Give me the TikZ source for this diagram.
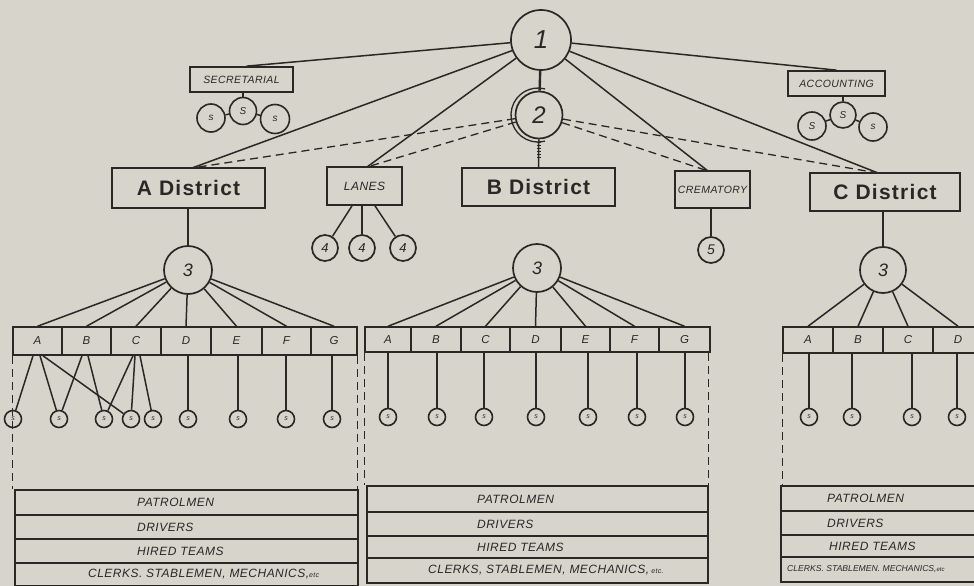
\documentclass[tikz,border=0pt]{standalone}
\usepackage{fontspec}
\setmainfont{Liberation Sans}
\newfontfamily\handf[LetterSpace=4]{Liberation Sans}
\newfontfamily\distf[LetterSpace=6]{Liberation Sans}
\usetikzlibrary{calc}
\definecolor{bg}{RGB}{214,212,203}
\definecolor{ink}{RGB}{42,40,38}
\begin{document}
\begin{tikzpicture}[x=1pt,y=-1pt,
  ln/.style={draw=ink,line width=1.5pt},
  dln/.style={draw=ink,line width=1.3pt,dash pattern=on 8pt off 5pt},
  distbox/.style={draw=ink,line width=1.9pt,inner sep=0pt,font=\distf\bfseries\fontsize{21}{24}\selectfont,text=ink},
  lblbox/.style={draw=ink,line width=1.7pt,inner sep=0pt,font=\handf\itshape\fontsize{10.5}{12}\selectfont,text=ink},
  bigc/.style={circle,draw=ink,line width=1.7pt,inner sep=0pt,text=ink},
  ssc/.style={circle,draw=ink,line width=1.6pt,inner sep=0pt,minimum size=17pt,font=\itshape\fontsize{7}{8}\selectfont,text=ink},
  midc/.style={circle,draw=ink,line width=1.6pt,inner sep=0pt,text=ink,font=\itshape\fontsize{10}{11}\selectfont},
  cell/.style={draw=ink,line width=1.5pt,inner sep=0pt,font=\handf\itshape\fontsize{11.5}{12}\selectfont,text=ink},
  row/.style={draw=ink,line width=1.5pt,inner sep=0pt},
  rowtxt/.style={inner sep=0pt,anchor=west,font=\handf\itshape\fontsize{12}{14}\selectfont,text=ink},
]
\useasboundingbox (0,0) rectangle (974,586);
\fill[bg] (0,0) rectangle (974,586);
\clip (0,0) rectangle (974,586);

% top circles
\node[bigc,minimum size=60pt,font=\itshape\fontsize{26}{28}\selectfont] (c1) at (541,40) {1};
\node[bigc,minimum size=47pt,font=\itshape\fontsize{24}{26}\selectfont] (c2) at (539,115) {2};
\draw[ink,line width=1.3pt] ($(c2.center)+(-1,0)$) ++(-75:27) arc[start angle=-75,end angle=-285,radius=27];

% boxes
\node[lblbox,minimum width=103pt,minimum height=25pt] (sec) at (241.5,79.5) {SECRETARIAL};
\node[lblbox,minimum width=97pt,minimum height=25pt] (acc) at (836.5,83.5) {ACCOUNTING};
\node[distbox,minimum width=153pt,minimum height=40pt] (ad) at (188.5,188) {A District};
\node[distbox,minimum width=153pt,minimum height=38pt] (bd) at (538.5,187) {B District};
\node[distbox,minimum width=150pt,minimum height=38pt] (cd) at (885,192) {C District};
\node[lblbox,minimum width=75pt,minimum height=38pt,font=\handf\itshape\fontsize{12}{13}\selectfont] (lanes) at (364.5,186) {LANES};
\node[lblbox,minimum width=75pt,minimum height=37pt] (crem) at (712.5,189.5) {CREMATORY};

% attachment points
\coordinate (adT) at (192,168);
\coordinate (lT) at (367,167);
\coordinate (crT) at (708,171);
\coordinate (cdT) at (878,173);

% solid connectors from 1
\draw[ln] (c1) -- ([xshift=5pt]sec.north);
\draw[ln] (c1) -- (acc.north);
\draw[ln] (c1) -- (adT);
\draw[ln] (c1) -- (lT);
\draw[ln] (c1) -- (crT);
\draw[ln] (c1) -- (cdT);
\draw[ink,line width=2.4pt] (c1) -- (c2);
\draw[ln] (c2) -- (bd.north);
\draw[ink,line width=4pt,dash pattern=on 0.9pt off 2pt] ($(c2.south)+(0,3)$) -- ($(c2.south)+(0,20)$);

% dashed connectors from 2
\draw[dln] (c2) -- (adT);
\draw[dln] (c2) -- (lT);
\draw[dln] (c2) -- (crT);
\draw[dln] (c2) -- (cdT);

% secretarial staff
\node[midc,minimum size=28pt] (ss1) at (211,118) {s};
\node[midc,minimum size=27pt] (ss2) at (243,111) {S};
\node[midc,minimum size=29pt] (ss3) at (275,119) {s};
\draw[ln] (sec.south -| ss2) -- (ss2);
\draw[ln] (ss1) -- (ss2);
\draw[ln] (ss2) -- (ss3);
% accounting staff
\node[midc,minimum size=28pt] (as1) at (812,126) {S};
\node[midc,minimum size=26pt] (as2) at (843,115) {S};
\node[midc,minimum size=28pt] (as3) at (873,127) {s};
\draw[ln] (acc.south -| as2) -- (as2);
\draw[ln] (as1) -- (as2);
\draw[ln] (as2) -- (as3);

% lanes
\node[bigc,minimum size=26pt,font=\itshape\fontsize{13}{14}\selectfont] (l1) at (325,248) {4};
\node[bigc,minimum size=26pt,font=\itshape\fontsize{13}{14}\selectfont] (l2) at (362,248) {4};
\node[bigc,minimum size=26pt,font=\itshape\fontsize{13}{14}\selectfont] (l3) at (403,248) {4};
\draw[ln] ([xshift=-12.5pt]lanes.south) -- (l1);
\draw[ln] ([xshift=-2.5pt]lanes.south) -- (l2);
\draw[ln] ([xshift=10.5pt]lanes.south) -- (l3);

% crematory
\node[bigc,minimum size=26pt,font=\itshape\fontsize{14}{15}\selectfont] (cr5) at (711,250) {5};
\draw[ln] (crem.south -| cr5) -- (cr5);

% district circles 3
\node[bigc,minimum size=48pt,font=\itshape\fontsize{18}{19}\selectfont] (c3a) at (188,270) {3};
\node[bigc,minimum size=48pt,font=\itshape\fontsize{18}{19}\selectfont] (c3b) at (537,268) {3};
\node[bigc,minimum size=46pt,font=\itshape\fontsize{18}{19}\selectfont] (c3c) at (883,270) {3};
\draw[ln] (ad.south -| c3a) -- (c3a);
\draw[ln] (cd.south -| c3c) -- (c3c);

% cells A
\foreach \nm/\l/\xa/\xb in {aA/A/13/62,aB/B/62/111,aC/C/111/161,aD/D/161/211,aE/E/211/262,aF/F/262/311,aG/G/311/357}
  \node[cell,minimum width={(\xb-\xa)*1pt},minimum height=28pt] (\nm) at ({(\xa+\xb)/2},341) {\l};
% cells B
\foreach \nm/\l/\xa/\xb in {bA/A/365/411,bB/B/411/461,bC/C/461/510,bD/D/510/561,bE/E/561/610,bF/F/610/659,bG/G/659/710}
  \node[cell,minimum width={(\xb-\xa)*1pt},minimum height=25pt] (\nm) at ({(\xa+\xb)/2},339.5) {\l};
% cells C
\foreach \nm/\l/\xa/\xb in {cA/A/783/833,cB/B/833/883,cC/C/883/933,cD/D/933/983}
  \node[cell,minimum width={(\xb-\xa)*1pt},minimum height=26pt] (\nm) at ({(\xa+\xb)/2},340) {\l};

\foreach \c in {aA,aB,aC,aD,aE,aF,aG} \draw[ln] (c3a) -- (\c.north);
\foreach \c in {bA,bB,bC,bD,bE,bF,bG} \draw[ln] (c3b) -- (\c.north);
\foreach \c in {cA,cB,cC,cD} \draw[ln] (c3c) -- (\c.north);

% s circles
\foreach \nm/\x in {sa1/13,sa2/59,sa3/104,sa4/131,sa5/153,sa6/188,sa7/238,sa8/286,sa9/332}
  \node[ssc] (\nm) at (\x,419) {s};
\foreach \nm/\x in {sb1/388,sb2/437,sb3/484,sb4/536,sb5/588,sb6/637,sb7/685}
  \node[ssc] (\nm) at (\x,417) {s};
\foreach \nm/\x in {sc1/809,sc2/852,sc3/912,sc4/957}
  \node[ssc] (\nm) at (\x,417) {s};

\draw[ln] ([xshift=-4.5pt]aA.south) -- (sa1);
\draw[ln] ([xshift=2.5pt]aA.south) -- (sa2);
\draw[ln] ([xshift=5.5pt]aA.south) -- (sa4);
\draw[ln] ([xshift=-4.5pt]aB.south) -- (sa2);
\draw[ln] ([xshift=1.5pt]aB.south) -- (sa3);
\draw[ln] ([xshift=-3pt]aC.south) -- (sa3);
\draw[ln] ([xshift=-1pt]aC.south) -- (sa4);
\draw[ln] ([xshift=4pt]aC.south) -- (sa5);
\draw[ln] (aD.south -| sa6) -- (sa6);
\draw[ln] (aE.south -| sa7) -- (sa7);
\draw[ln] (aF.south -| sa8) -- (sa8);
\draw[ln] (aG.south -| sa9) -- (sa9);
\foreach \c/\s in {bA/sb1,bB/sb2,bC/sb3,bD/sb4,bE/sb5,bF/sb6,bG/sb7}
  \draw[ln] (\c.south -| \s) -- (\s);
\foreach \c/\s in {cA/sc1,cB/sc2,cC/sc3,cD/sc4}
  \draw[ln] (\c.south -| \s) -- (\s);

% tables
\node[row,minimum width=343pt,minimum height=25pt] (ta1) at (186.5,502.5) {};
\node[row,minimum width=343pt,minimum height=24pt] (ta2) at (186.5,527) {};
\node[row,minimum width=343pt,minimum height=24pt] (ta3) at (186.5,551) {};
\node[row,minimum width=343pt,minimum height=23pt] (ta4) at (186.5,574.5) {};
\node[row,minimum width=341pt,minimum height=26pt] (tb1) at (537.5,499) {};
\node[row,minimum width=341pt,minimum height=24pt] (tb2) at (537.5,524) {};
\node[row,minimum width=341pt,minimum height=22pt] (tb3) at (537.5,547) {};
\node[row,minimum width=341pt,minimum height=25pt] (tb4) at (537.5,570.5) {};
\node[row,minimum width=219pt,minimum height=25pt] (tc1) at (890.5,498.5) {};
\node[row,minimum width=219pt,minimum height=24pt] (tc2) at (890.5,523) {};
\node[row,minimum width=219pt,minimum height=22pt] (tc3) at (890.5,546) {};
\node[row,minimum width=219pt,minimum height=25pt] (tc4) at (890.5,569.5) {};

\node[rowtxt] (xa1) at (137,502.5) {PATROLMEN};
\node[rowtxt] (xa2) at (137,527) {DRIVERS};
\node[rowtxt] (xa3) at (137,551) {HIRED TEAMS};
\node[rowtxt] (xa4) at (88,574.5) {CLERKS. STABLEMEN, MECHANICS,{\fontsize{7}{8}\selectfont etc}};
\node[rowtxt] (xb1) at (477,499) {PATROLMEN};
\node[rowtxt] (xb2) at (477,524) {DRIVERS};
\node[rowtxt] (xb3) at (477,547) {HIRED TEAMS};
\node[rowtxt] (xb4) at (428,570.5) {CLERKS, STABLEMEN, MECHANICS,{\fontsize{7}{8}\selectfont\ etc.}};
\node[rowtxt] (xc1) at (827,498.5) {PATROLMEN};
\node[rowtxt] (xc2) at (827,523) {DRIVERS};
\node[rowtxt] (xc3) at (829,546) {HIRED TEAMS};
\node[rowtxt,font=\itshape\fontsize{8.6}{10}\selectfont] (xc4) at (787,569.5) {CLERKS. STABLEMEN. MECHANICS,{\fontsize{6}{7}\selectfont etc}};

% dashed region borders
\draw[dln] (aA.south west) -- (aA.south west |- ta1.north);
\draw[dln] (aG.south east) -- (aG.south east |- ta1.north);
\draw[dln] (bA.south west) -- (bA.south west |- tb1.north);
\draw[dln] ([xshift=-2pt]bG.south east) -- ([xshift=-2pt]bG.south east |- tb1.north);
\draw[dln] (cA.south west) -- (cA.south west |- tc1.north);
\end{tikzpicture}
\end{document}
